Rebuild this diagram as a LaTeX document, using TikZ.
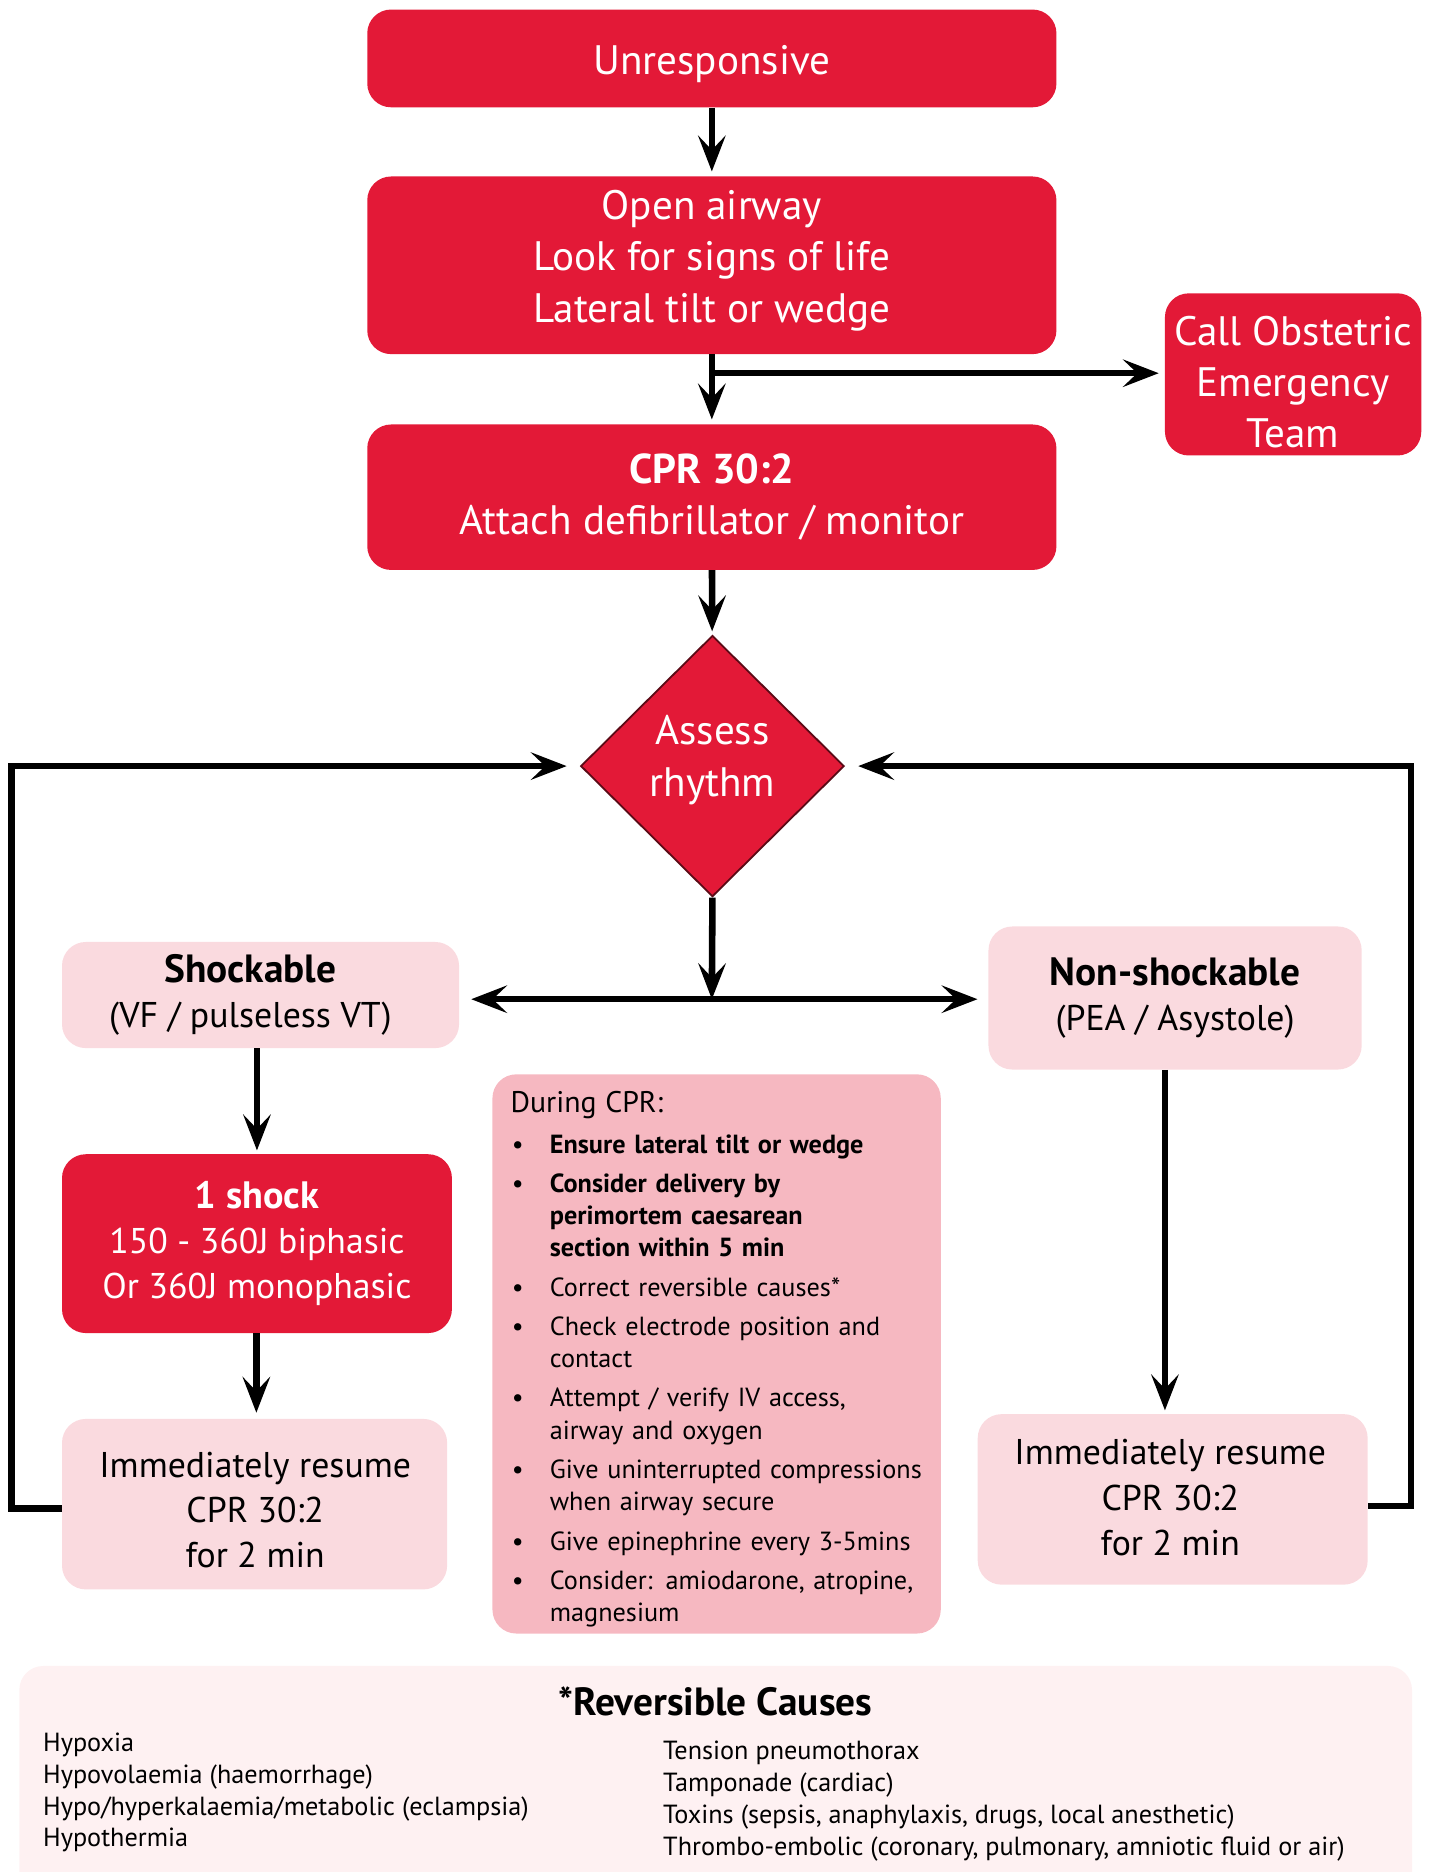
\documentclass[tikz,border=0pt]{standalone}
\usepackage{fontspec}
\setmainfont{PT Sans}
\usetikzlibrary{shapes.geometric,arrows.meta}
\definecolor{cred}{HTML}{E31937}
\definecolor{cpink}{HTML}{FADADF}
\definecolor{cmid}{HTML}{F6B8C1}
\definecolor{cpale}{HTML}{FEF1F2}
\newcommand{\cpi}[1]{\par\vspace{6pt}\noindent\makebox[33pt][l]{\hspace{1pt}\textbullet}#1}
\newcommand{\cpc}[1]{\par\noindent\hspace*{33pt}#1}
\newcommand{\bigb}[3]{{\fontsize{#1}{#2}\selectfont\bfseries #3}}
\begin{document}
\begin{tikzpicture}[x=1pt,y=-1pt,
  redbox/.style={fill=cred, text=white, rounded corners=20pt, align=center, inner sep=0pt, font=\fontsize{34.5}{43}\selectfont},
  pinkbox/.style={fill=cpink, rounded corners=20pt, align=center, inner sep=0pt, font=\fontsize{30}{38}\selectfont},
  redtxt/.style={text=white, align=center, inner sep=0pt, font=\fontsize{34.5}{43}\selectfont},
  pinktxt/.style={align=center, inner sep=0pt, font=\fontsize{30}{38}\selectfont},
  arr/.style={line width=5.5pt, -{Stealth[length=30pt,width=23pt,inset=12pt]}},
  darr/.style={line width=5.5pt, {Stealth[length=30pt,width=23pt,inset=12pt]}-{Stealth[length=30pt,width=23pt,inset=12pt]}}
]
\useasboundingbox (0,0) rectangle (1200,1570);
\clip (0,0) rectangle (1200,1570);

% boxes
\node[redbox, minimum width=578pt, minimum height=82pt] (unr) at (597,49) {};
\node[redtxt, text depth=0pt] (unrt) at (597,50) {Unresponsive};
\node[redbox, minimum width=578pt, minimum height=149pt] (open) at (597,222.5) {};
\node[redtxt] (opent) at (597,218.5) {Open airway\\Look for signs of life\\Lateral tilt or wedge};
\node[redbox, minimum width=215pt, minimum height=136pt] (call) at (1084.5,314) {};
\node[redtxt] (callt) at (1084.5,320.5) {Call Obstetric\\Emergency\\Team};
\node[redbox, minimum width=578pt, minimum height=122pt] (cpr) at (597,417) {\bigb{35}{43}{CPR 30:2}\\Attach defibrillator / monitor};
\node[diamond, fill=cred, draw=black!60!cred, line width=1.5pt, minimum width=221pt, minimum height=219pt, inner sep=0pt] (dia) at (597.5,642.5) {};
\node[redtxt, font=\fontsize{34.5}{44}\selectfont] (diat) at (597.5,637.5) {Assess\\rhythm};

\node[pinkbox, minimum width=333pt, minimum height=89pt] (shock) at (218.5,834.5) {};
\node[pinktxt] (shockt) at (210,834.5) {\bigb{33}{38}{Shockable}\\(VF / pulseless VT)};
\node[pinkbox, minimum width=313pt, minimum height=120pt] (non) at (985.5,837) {\bigb{33}{38}{Non-shockable}\\(PEA / Asystole)};
\node[redbox, minimum width=327pt, minimum height=150pt, font=\fontsize{30}{38}\selectfont] (one) at (215.5,1043) {\bigb{32}{38}{1 shock}\\150 - 360J biphasic\\Or 360J monophasic};
\node[pinkbox, minimum width=323pt, minimum height=143pt] (resL) at (213.5,1261.5) {};
\node[pinktxt] (resLt) at (214,1266.5) {Immediately resume\\CPR 30:2\\for 2 min};
\node[pinkbox, minimum width=327pt, minimum height=143pt] (resR) at (983.5,1257.5) {};
\node[pinktxt] (resRt) at (981.5,1256) {Immediately resume\\CPR 30:2\\for 2 min};

\node[fill=cmid, rounded corners=20pt, minimum width=376pt, minimum height=469pt, inner sep=0pt] (dur) at (601,1135.5) {};
\node[anchor=north west, inner sep=0pt, text width=370pt, font=\fontsize{22}{27}\selectfont] (durtxt) at (428,915) {%
\noindent{\fontsize{25}{27}\selectfont During CPR:}\par\vspace{1pt}
\cpi{\textbf{Ensure lateral tilt or wedge}}
\cpi{\textbf{Consider delivery by}}\cpc{\textbf{perimortem caesarean}}\cpc{\textbf{section within 5 min}}
\cpi{Correct reversible causes*}
\cpi{Check electrode position and}\cpc{contact}
\cpi{Attempt / verify IV access,}\cpc{airway and oxygen}
\cpi{Give uninterrupted compressions}\cpc{when airway secure}
\cpi{Give epinephrine every 3-5mins}
\cpi{Consider: amiodarone, atropine,}\cpc{magnesium}\par};

\node[fill=cpale, rounded corners=20pt, minimum width=1168pt, minimum height=213pt, anchor=north west, inner sep=0pt] (rc) at (16,1397) {};
\node[font=\bfseries\fontsize{33}{35}\selectfont, inner sep=0pt] (rct) at (600,1427) {*Reversible Causes};
\node[anchor=north west, inner sep=0pt, align=left, font=\fontsize{22}{26.7}\selectfont] (rcl) at (36,1453) {Hypoxia\\Hypovolaemia (haemorrhage)\\Hypo/hyperkalaemia/metabolic (eclampsia)\\Hypothermia};
\node[anchor=north west, inner sep=0pt, align=left, font=\fontsize{22}{26.7}\selectfont] (rcr) at (556,1460) {Tension pneumothorax\\Tamponade (cardiac)\\Toxins (sepsis, anaphylaxis, drugs, local anesthetic)\\Thrombo-embolic (coronary, pulmonary, amniotic fluid or air)};

% connectors
\coordinate (br) at (597,313);
\coordinate (hj) at (597,838);
\draw[arr, shorten >=4pt] (unr) -- (open);
\draw[arr, shorten >=4pt] (open) -- (cpr);
\draw[arr, shorten >=5pt] (br) -- (br -| call.west);
\draw[arr, shorten >=3pt] (cpr) -- (dia);
\draw[arr] (dia.south) -- (hj);
\draw[darr, shorten <=10pt, shorten >=9pt] (hj -| shock.east) -- (hj -| non.west);
\draw[arr, shorten >=3pt] ([xshift=-3pt]shock.south) -- ([xshift=-3pt]shock.south |- one.north);
\draw[arr, shorten >=5pt] ([xshift=-0.5pt]one.south) -- ([xshift=-0.5pt]one.south |- resL.north);
\draw[arr, shorten >=3pt] ([xshift=-8.5pt]non.south) -- ([xshift=-8.5pt]non.south |- resR.north);
\draw[arr, shorten >=11pt] ([yshift=-3.5pt]resL.west) -- ++(-42,0) |- (dia.west);
\draw[arr, shorten >=11pt] ([yshift=-5.5pt]resR.east) -- ++(36,0) |- (dia.east);
\end{tikzpicture}
\end{document}
